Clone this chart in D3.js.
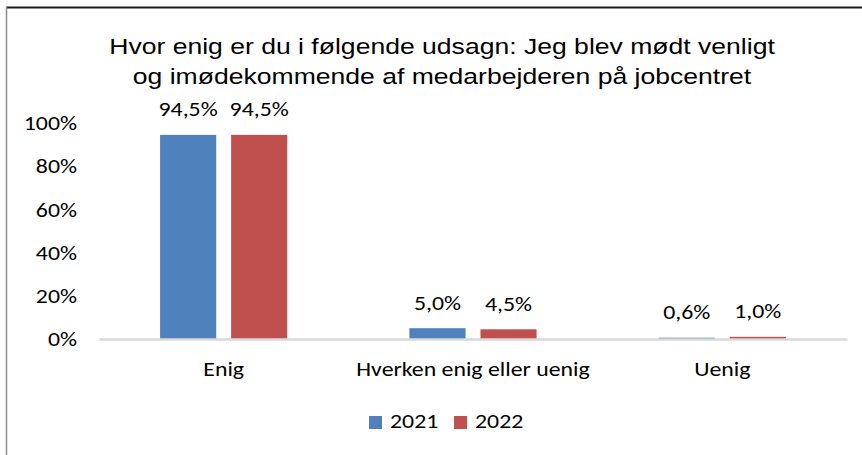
<!DOCTYPE html>
<html>
<head>
<meta charset="utf-8">
<script src="https://cdn.jsdelivr.net/npm/d3@7"></script>
<style>
  body { margin: 0; background: #fff; }
  svg text { fill: #000; }
</style>
</head>
<body>
<div id="chart"></div>
<script>
// Chart data
const categories = ["Enig", "Hverken enig eller uenig", "Uenig"];
const years = ["2021", "2022"];
const values2021 = [0.945, 0.050, 0.006];
const values2022 = [0.945, 0.045, 0.010];
const labels2021 = ["94,5%", "5,0%", "0,6%"];
const labels2022 = ["94,5%", "4,5%", "1,0%"];
const yTicks = [0, 0.2, 0.4, 0.6, 0.8, 1.0];
const titleLines = [
    "Hvor enig er du i følgende udsagn: Jeg blev mødt venligt",
    "og imødekommende af medarbejderen på jobcentret"
];
const colors = { "2021": "#4f81bd", "2022": "#c0504d" };

const width = 862;
const height = 455;
const margin = { top: 123, right: 15, bottom: 116, left: 99 };
const bodyFont = "Carlito, Lato, sans-serif";
const bodySize = "20px";
const bodyStretch = 1.19;

// the source picture is stretched sideways, so widen the glyphs a bit
function stretch(sel, k) {
    sel.each(function() {
        const w = this.getComputedTextLength();
        d3.select(this)
            .attr("textLength", w * k)
            .attr("lengthAdjust", "spacingAndGlyphs");
    });
}

const svg = d3.select("#chart")
    .append("svg")
    .attr("width", width)
    .attr("height", height);

// frame lines (top and left only, as in the source image)
svg.append("line")
    .attr("x1", 6).attr("x2", width).attr("y1", 7.5).attr("y2", 7.5)
    .attr("stroke", "#1a1a1a").attr("stroke-width", 2);
svg.append("line")
    .attr("x1", 6.5).attr("x2", 6.5).attr("y1", 7).attr("y2", height)
    .attr("stroke", "#8c8c8c").attr("stroke-width", 1.5);

// Title
svg.selectAll(".title")
    .data(titleLines)
    .enter()
    .append("text")
    .attr("class", "title")
    .attr("x", 442)
    .attr("y", (d, i) => 53.5 + i * 30)
    .attr("text-anchor", "middle")
    .style("font-family", "'Liberation Sans', Arial, sans-serif")
    .style("font-size", "22.5px")
    .text(d => d)
    .call(stretch, 1.18);

const g = svg.append("g")
    .attr("transform", `translate(${margin.left}, ${margin.top})`);

const innerW = width - margin.left - margin.right;
const innerH = height - margin.top - margin.bottom;

// Scales
const x0 = d3.scaleBand()
    .domain(categories)
    .range([0, innerW]);

const x1 = d3.scaleBand()
    .domain(years)
    .range([0, x0.bandwidth()])
    .paddingInner(0.21)
    .paddingOuter(0.86);

const y = d3.scaleLinear()
    .domain([0, 1])
    .range([innerH, 0]);

// Y axis
const yAxis = g.append("g")
    .call(d3.axisLeft(y).tickValues(yTicks).tickFormat(d => Math.round(d * 100) + "%").tickSize(0).tickPadding(22));
yAxis.select(".domain").remove();
yAxis.selectAll("text")
    .style("font-family", bodyFont)
    .style("font-size", bodySize)
    .attr("dy", "0.33em")
    .call(stretch, bodyStretch);

// rows of data
const rows = categories.map((c, i) => ({
    cat: c,
    vals: [
        { year: "2021", v: values2021[i], label: labels2021[i] },
        { year: "2022", v: values2022[i], label: labels2022[i] }
    ]
}));

const groups = g.selectAll(".grp")
    .data(rows)
    .enter()
    .append("g")
    .attr("class", "grp")
    .attr("transform", d => `translate(${x0(d.cat)}, 0)`);

groups.selectAll("rect")
    .data(d => d.vals)
    .enter()
    .append("rect")
    .attr("x", d => x1(d.year))
    .attr("y", d => y(d.v))
    .attr("width", x1.bandwidth())
    .attr("height", d => innerH - y(d.v))
    .attr("fill", d => colors[d.year]);

groups.selectAll(".lbl")
    .data(d => d.vals)
    .enter()
    .append("text")
    .attr("class", "lbl")
    .attr("x", d => x1(d.year) + x1.bandwidth() / 2)
    .attr("y", d => y(d.v) - 18.5)
    .attr("text-anchor", "middle")
    .style("font-family", bodyFont)
    .style("font-size", bodySize)
    .text(d => d.label)
    .call(stretch, bodyStretch);

// X axis baseline + category labels
const xAxis = g.append("g")
    .attr("transform", `translate(0, ${innerH})`)
    .call(d3.axisBottom(x0).tickSize(0).tickPadding(23));
xAxis.select(".domain")
    .attr("stroke", "#d9d9d9")
    .attr("stroke-width", 2.5);
xAxis.selectAll("text")
    .style("font-family", bodyFont)
    .style("font-size", bodySize)
    .call(stretch, bodyStretch);

// Legend
const legend = svg.append("g")
    .attr("transform", "translate(369, 416)");
const legendItems = legend.selectAll("g")
    .data(years)
    .enter()
    .append("g")
    .attr("transform", (d, i) => `translate(${i * 85}, 0)`);
legendItems.append("rect")
    .attr("width", 13)
    .attr("height", 13)
    .attr("fill", d => colors[d]);
legendItems.append("text")
    .attr("x", 21)
    .attr("y", 12)
    .style("font-family", bodyFont)
    .style("font-size", bodySize)
    .text(d => d)
    .call(stretch, bodyStretch);
</script>
</body>
</html>
